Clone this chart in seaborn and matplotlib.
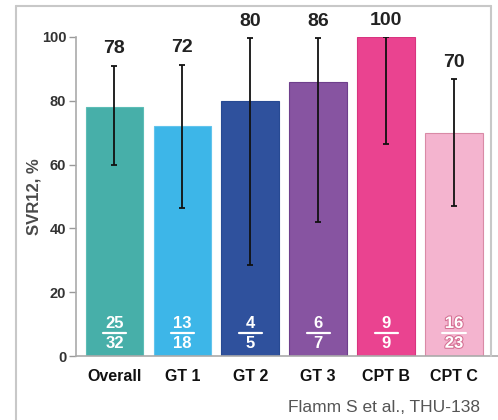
import numpy as np
import pandas as pd
import seaborn as sns
import matplotlib.pyplot as plt
import matplotlib.patheffects as pe
from matplotlib.lines import Line2D

# data
groups = ["Overall", "GT 1", "GT 2", "GT 3", "CPT B", "CPT C"]
svr12 = [78, 72, 80, 86, 100, 70]
ci_low = [60, 46.5, 28.4, 42, 66.4, 47]
ci_high = [91, 91.3, 99.6, 99.6, 100, 86.7]
responders = ["25", "13", "4", "6", "9", "16"]
patients = ["32", "18", "5", "7", "9", "23"]
colors = ["#47afa9", "#3db6e8", "#2f519d", "#8754a1", "#ea4390", "#f4b4cf"]
edges = ["#5cbdb6", "#62c4ec", "#274a93", "#6e3f8c", "#d8357f", "#d98aa6"]

df = pd.DataFrame({"group": groups, "svr": svr12})

sns.set_style("white")
plt.rcParams["font.family"] = ["Liberation Sans", "DejaVu Sans"]

fig = plt.figure(figsize=(4.98, 4.2), dpi=100)
ax = fig.add_axes([76 / 498, 64 / 420, 422 / 498, 319 / 420])

sns.barplot(data=df, x="group", y="svr", hue="group", palette=colors,
            legend=False, width=0.85, saturation=1, ax=ax)
for bar, ec in zip(ax.patches, edges):
    bar.set_edgecolor(ec)
    bar.set_linewidth(0.8)

xs = np.arange(len(groups))
lo = np.array(svr12) - np.array(ci_low)
hi = np.array(ci_high) - np.array(svr12)
ax.errorbar(xs, svr12, yerr=[lo, hi], fmt="none", ecolor="#111111",
            elinewidth=1.3, capsize=2.5, capthick=1.3)

# value labels above the error bars
for x, v, top in zip(xs, svr12, ci_high):
    ax.annotate(str(v), (x, top), xytext=(0, 6), textcoords="offset points",
                ha="center", va="bottom", fontsize=14, fontweight="bold",
                color="#222222", annotation_clip=False)

# n/N fractions inside the bars
for i, (a, b) in enumerate(zip(responders, patients)):
    fx = []
    if groups[i] == "CPT C":
        fx = [pe.withStroke(linewidth=1.5, foreground="#d46f92")]
    ax.text(i, 10.2, a, ha="center", va="center", fontsize=12,
            fontweight="bold", color="white", path_effects=fx)
    ax.text(i, 4.0, b, ha="center", va="center", fontsize=12,
            fontweight="bold", color="white", path_effects=fx)
    ax.plot([i - 0.17, i + 0.17], [7.2, 7.2], color="white", lw=1.6,
            path_effects=fx)

ax.set_ylim(0, 100)
ax.set_xlim(-0.567, 5.648)
ax.set_yticks([0, 20, 40, 60, 80, 100])
ax.set_xlabel("")
ax.set_ylabel("SVR12, %", fontsize=12, fontweight="bold", color="#4a4a4a",
              labelpad=0)
ax.tick_params(axis="y", left=True, length=5, width=1, color="#999999",
               labelsize=10.5, labelcolor="#333333", pad=2)
ax.tick_params(axis="x", bottom=False, labelsize=11.5, labelcolor="#111111",
               pad=6)
for lab in ax.get_yticklabels() + ax.get_xticklabels():
    lab.set_fontweight("bold")

sns.despine(ax=ax, top=True, right=True)
ax.spines["left"].set_color("#aaaaaa")
ax.spines["bottom"].set_color("#aaaaaa")
ax.spines["left"].set_linewidth(1.2)
ax.spines["bottom"].set_linewidth(1.2)

# frame around the panel
frame_c = "#c8c8c8"
fig.add_artist(Line2D([16 / 498, 491 / 498], [414 / 420, 414 / 420],
                      color=frame_c, lw=1.5, transform=fig.transFigure))
fig.add_artist(Line2D([16 / 498, 16 / 498], [0, 414 / 420],
                      color=frame_c, lw=1.5, transform=fig.transFigure))
fig.add_artist(Line2D([491 / 498, 491 / 498], [64 / 420, 414 / 420],
                      color=frame_c, lw=1.5, transform=fig.transFigure))

fig.text(480 / 498, 13 / 420, "Flamm S et al., THU-138", ha="right",
         va="center", fontsize=12.5, color="#555555")

fig.savefig("out.png", dpi=100)
